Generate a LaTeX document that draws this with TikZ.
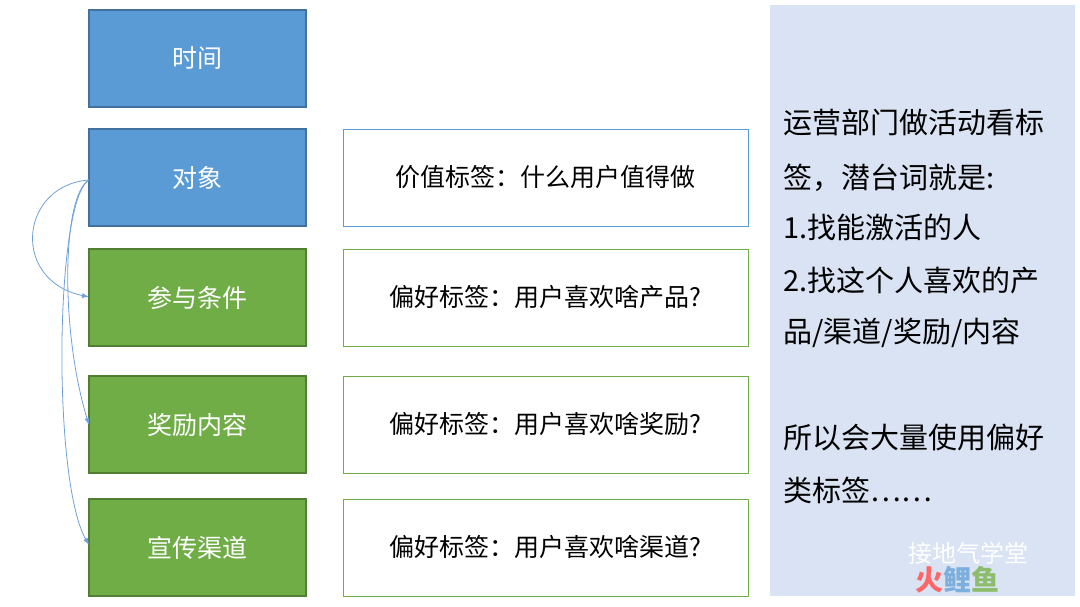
\documentclass[tikz,border=0pt]{standalone}
\usepackage{fontspec}
\setmainfont{Noto Sans CJK SC}
\usetikzlibrary{arrows.meta}
\definecolor{bfill}{HTML}{5B9BD5}\definecolor{bline}{HTML}{41719C}
\definecolor{gfill}{HTML}{70AD47}\definecolor{gline}{HTML}{507E32}
\definecolor{panel}{HTML}{DAE3F3}\definecolor{arr}{HTML}{6FA0D8}
\begin{document}
\begin{tikzpicture}[x=1pt,y=-1pt,
 lbox/.style={minimum width=217pt,minimum height=97pt,line width=1.2pt,text=white,font=\fontsize{25}{28}\selectfont},
 blue/.style={lbox,fill=bfill,draw=bline},
 green/.style={lbox,fill=gfill,draw=gline},
 rbox/.style={minimum width=405pt,minimum height=97pt,line width=1pt,fill=white,font=\fontsize{25}{28}\selectfont},
 con/.style={arr,line width=0.8pt,-{Latex[length=7pt,width=5pt]}},
 ptext/.style={anchor=west,font=\fontsize{29}{32}\selectfont}]
\useasboundingbox (0,0) rectangle (1080,606);
\fill[panel] (770,5) rectangle (1075,596);
\node[blue] (t) at (197.5,58.5) {时间};
\node[blue] (o) at (197.5,177.5) {对象};
\node[green] (c) at (197.5,297.5) {参与条件};
\node[green] (r) at (197.5,424.5) {奖励内容};
\node[green] (q) at (197.5,547.5) {宣传渠道};
\node[rbox,draw=bfill] (v) at (545.5,177.5) {价值标签：什么用户值得做};
\node[rbox,draw=gfill] (p1) at (545.5,297.5) {偏好标签：用户喜欢啥产品?};
\node[rbox,draw=gfill] (p2) at (545.5,424.5) {偏好标签：用户喜欢啥奖励?};
\node[rbox,draw=gfill] (p3) at (545.5,547.5) {偏好标签：用户喜欢啥渠道?};
\coordinate (s) at (89,180);
\coordinate (e1) at (89,297);\coordinate (e2) at (89,425);\coordinate (e3) at (89,545);
\draw[con] (s) .. controls (20,185) and (10,280) .. (e1);
\draw[con] (s) .. controls (62,195) and (60,330) .. (e2);
\draw[con] (s) .. controls (55,200) and (52,480) .. (e3);
\node[ptext] (l1) at (780,122) {运营部门做活动看标};
\node[ptext] (l2) at (780,178) {签，潜台词就是:};
\node[ptext] (l3) at (780,227) {1.找能激活的人};
\node[ptext] (l4) at (780,280) {2.找这个人喜欢的产};
\node[ptext] (l5) at (780,333) {品/渠道/奖励/内容};
\node[ptext] (l6) at (780,438) {所以会大量使用偏好};
\node[ptext] (l7) at (780,490) {类标签……};
\node[anchor=west,text=white,font=\fontsize{24}{26}\selectfont] (wm) at (905,553) {接地气学堂};
\node[anchor=west,font=\bfseries\fontsize{28}{30}\selectfont] (wm2) at (912,580) {\textcolor{red!60}{火}\textcolor{bfill!80}{鲤}\textcolor{gfill!80}{鱼}};
\end{tikzpicture}
\end{document}
